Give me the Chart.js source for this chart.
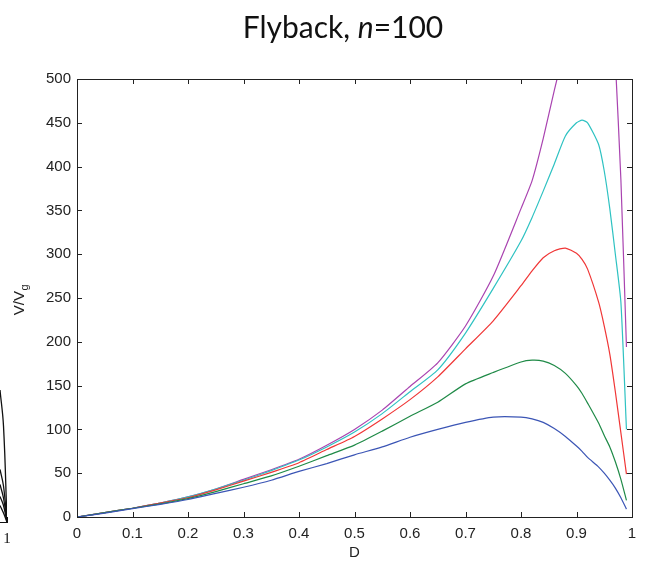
<!DOCTYPE html>
<html>
<head>
<meta charset="utf-8">
<script src="https://cdn.jsdelivr.net/npm/chart.js@4.4.1/dist/chart.umd.min.js"></script>
<style>
  body { margin: 0; background: #fff; }
  #wrap { position: relative; width: 645px; height: 575px; overflow: hidden; }
  #chart { position: absolute; left: 0; top: 0; }
  #side { position: absolute; left: 0; top: 360px; }
  #title { position: absolute; left: 0; top: 11px; width: 686px; text-align: center;
           font-family: Lato, "Open Sans", sans-serif; font-size: 30px; line-height: 30px; color: #111; }
</style>
</head>
<body>
<div id="wrap">
  <canvas id="chart" width="645" height="575"></canvas>
  <canvas id="side" width="12" height="190"></canvas>
  <div id="title">Flyback, <i>n</i>=100</div>
</div>
<script>
// duty cycle
const dutyD = [0, 0.05, 0.1, 0.15, 0.2, 0.25, 0.3, 0.35, 0.4, 0.45, 0.5, 0.55, 0.6, 0.65, 0.7, 0.75,
  0.8, 0.82, 0.84, 0.86, 0.88, 0.9, 0.91, 0.92, 0.94, 0.95, 0.96, 0.97, 0.98, 0.99];

// V/Vg curves
const blueV = [0, 4.5, 9.5, 14.5, 20, 27, 34, 42, 52, 61, 71, 80, 91, 100, 108, 114,
  114, 112, 108, 101, 92, 81, 75, 68, 57, 50, 42, 33, 22, 9];
const greenV = [0, 5, 10, 15, 21, 29, 38, 47, 58, 70, 82, 98, 115, 131, 152, 165,
  177, 179, 178, 173, 164, 150, 141, 130, 107, 93, 80, 63, 43, 19];
const redV = [0, 5, 10, 16, 22, 31, 41, 51, 62, 77, 92, 112, 134, 160, 192, 224,
  264, 281, 296, 304, 307, 301, 294, 283, 245, 218, 186, 143, 96, 49];
const cyanV = [0, 5, 10, 16, 23, 32, 42, 53, 65, 80, 97, 118, 143, 168, 210, 261,
  315, 342, 372, 403, 435, 450, 453, 450, 425, 395, 352, 300, 245, 100];
const magentaV = [0, 5, 10, 16, 23, 32, 43, 54, 66, 82, 100, 122, 149, 176, 218, 275,
  352, 384, 432, 487, 540, 600, 630, 660, 700, 690, 640, 520, 385, 194];

const seriesColors = ['#3b55b5', '#1f8a47', '#f03636', '#2ec2c2', '#a943b0'];

// axis ticks
const xTicks = [0, 0.1, 0.2, 0.3, 0.4, 0.5, 0.6, 0.7, 0.8, 0.9, 1];
const yTicks = [0, 50, 100, 150, 200, 250, 300, 350, 400, 450, 500];

// edge of the neighbouring figure, cut off at the left
const sideX = [0, 0.5, 1];
const sideA = [88, 64, 0];
const sideB = [35, 24, 0];
const sideC = [25, 16, 0];
const sideD = [17, 11, 0];
const sideE = [11, 6, 0];

const FONT = '"Liberation Sans", Arial, sans-serif';

function pts(ys) {
  return ys.map((y, i) => ({ x: dutyD[i], y: y }));
}

const boxTicks = {
  id: 'boxTicks',
  afterDraw(chart) {
    const ctx = chart.ctx;
    const { left, right, top, bottom } = chart.chartArea;
    const xs = chart.scales.x, ys = chart.scales.y;
    ctx.save();
    ctx.strokeStyle = '#222';
    ctx.lineWidth = 1;
    ctx.beginPath();
    xTicks.forEach(v => {
      const px = Math.round(xs.getPixelForValue(v)) + 0.5;
      ctx.moveTo(px, bottom); ctx.lineTo(px, bottom - 5);
      ctx.moveTo(px, top); ctx.lineTo(px, top + 5);
    });
    yTicks.forEach(v => {
      const py = Math.round(ys.getPixelForValue(v)) + 0.5;
      ctx.moveTo(left, py); ctx.lineTo(left + 5, py);
      ctx.moveTo(right, py); ctx.lineTo(right - 5, py);
    });
    ctx.stroke();
    ctx.strokeRect(Math.round(left) + 0.5, Math.round(top) + 0.5,
      Math.round(right - left), Math.round(bottom - top));

    // y axis title V/Vg with subscript
    ctx.fillStyle = '#222';
    ctx.translate(24, (top + bottom) / 2 + 2);
    ctx.rotate(-Math.PI / 2);
    ctx.font = '15px ' + FONT;
    const w1 = ctx.measureText('V/V').width;
    ctx.font = '11px ' + FONT;
    const w2 = ctx.measureText('g').width;
    const x0 = -(w1 + w2) / 2;
    ctx.textBaseline = 'alphabetic';
    ctx.font = '15px ' + FONT;
    ctx.fillText('V/V', x0, 0);
    ctx.font = '11px ' + FONT;
    ctx.fillText('g', x0 + w1 + 0.5, 4);
    ctx.restore();
  }
};

new Chart(document.getElementById('chart'), {
  type: 'line',
  data: {
    datasets: [blueV, greenV, redV, cyanV, magentaV].map((ys, i) => ({
      data: pts(ys),
      borderColor: seriesColors[i],
      borderWidth: 1.2,
      pointRadius: 0,
      tension: 0.2,
      fill: false
    }))
  },
  options: {
    responsive: false,
    animation: false,
    events: [],
    layout: { padding: { left: 0, right: 13, top: 79, bottom: 0 } },
    plugins: { legend: { display: false }, tooltip: { enabled: false } },
    scales: {
      x: {
        type: 'linear', min: 0, max: 1,
        afterBuildTicks: s => { s.ticks = xTicks.map(v => ({ value: v })); },
        afterFit: s => { s.height = 58; },
        grid: { display: false, drawTicks: false },
        border: { display: false },
        ticks: { padding: 8, color: '#222', font: { family: FONT, size: 15 },
          callback: v => String(Math.round(v * 10) / 10) },
        title: { display: true, text: 'D', color: '#222', font: { family: FONT, size: 15 },
          padding: { top: 0, bottom: 13 } }
      },
      y: {
        type: 'linear', min: 0, max: 500,
        afterBuildTicks: s => { s.ticks = yTicks.map(v => ({ value: v })); },
        afterFit: s => { s.width = 77; },
        grid: { display: false, drawTicks: false },
        border: { display: false },
        ticks: { padding: 6, color: '#222', font: { family: FONT, size: 15 } }
      }
    }
  },
  plugins: [boxTicks]
});

// sliver of the neighbouring plot
const sideMarks = {
  id: 'sideMarks',
  afterDraw(chart) {
    const ctx = chart.ctx;
    const { left, right, bottom } = chart.chartArea;
    ctx.save();
    ctx.strokeStyle = '#111';
    ctx.lineWidth = 1;
    ctx.beginPath();
    ctx.moveTo(left, bottom + 0.5); ctx.lineTo(right + 1, bottom + 0.5);
    ctx.moveTo(right + 0.5, bottom); ctx.lineTo(right + 0.5, bottom - 5);
    ctx.stroke();
    ctx.fillStyle = '#111';
    ctx.font = '15px "Liberation Serif", "DejaVu Serif", serif';
    ctx.textAlign = 'center';
    ctx.textBaseline = 'middle';
    ctx.fillText('1', right, bottom + 17);
    ctx.restore();
  }
};

new Chart(document.getElementById('side'), {
  type: 'line',
  data: {
    datasets: [sideA, sideB, sideC, sideD, sideE].map(ys => ({
      data: ys.map((y, i) => ({ x: sideX[i], y: y })),
      borderColor: '#111',
      borderWidth: 1.3,
      pointRadius: 0,
      tension: 0.4
    }))
  },
  options: {
    responsive: false,
    animation: false,
    events: [],
    layout: { padding: { left: 0, right: 5, top: 12, bottom: 28 } },
    plugins: { legend: { display: false }, tooltip: { enabled: false } },
    scales: {
      x: { type: 'linear', min: 0, max: 1, display: false },
      y: { type: 'linear', min: 0, max: 100, display: false }
    }
  },
  plugins: [sideMarks]
});
</script>
</body>
</html>
